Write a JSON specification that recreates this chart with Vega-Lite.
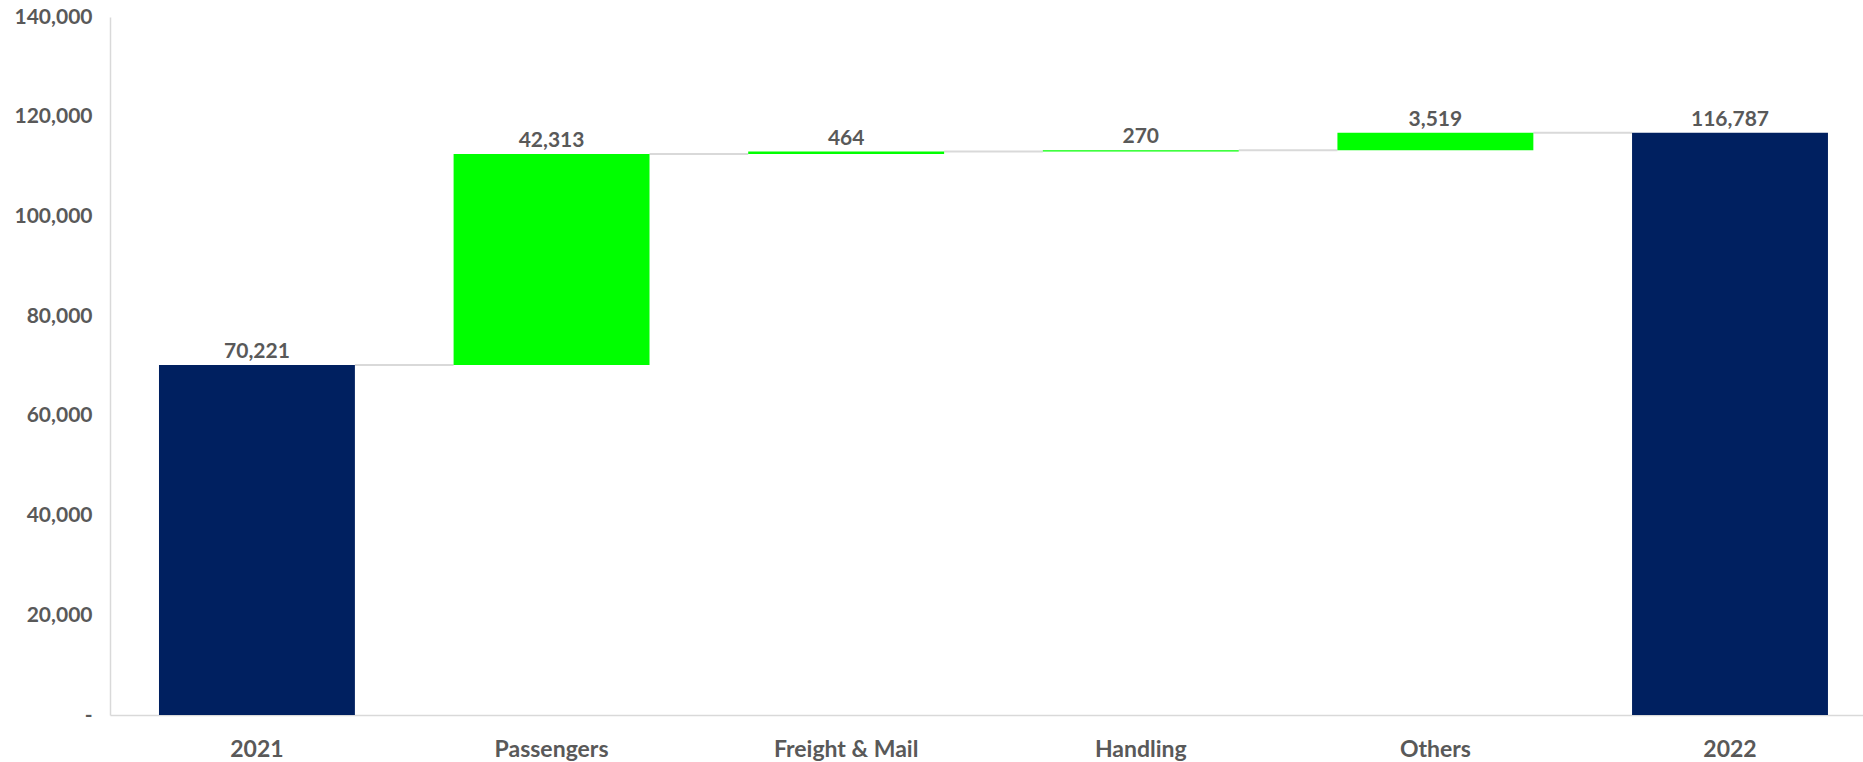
{
  "$schema": "https://vega.github.io/schema/vega-lite/v6.json",
  "autosize": {"type": "none"},
  "width": 1753,
  "height": 698,
  "padding": {"left": 110, "top": 17, "right": 0, "bottom": 47},
  "background": "white",
  "config": {
    "view": {"stroke": null},
    "font": "Lato",
    "axis": {"labelFont": "Lato", "labelFontWeight": "bold", "labelColor": "#595959"}
  },
  "data": {
    "values": [
      {"cat": "2021", "start": 0, "end": 70221, "value": 70221, "kind": "total", "next": "Passengers"},
      {"cat": "Passengers", "start": 70221, "end": 112534, "value": 42313, "kind": "increase", "next": "Freight & Mail"},
      {"cat": "Freight & Mail", "start": 112534, "end": 112998, "value": 464, "kind": "increase", "next": "Handling"},
      {"cat": "Handling", "start": 112998, "end": 113268, "value": 270, "kind": "increase", "next": "Others"},
      {"cat": "Others", "start": 113268, "end": 116787, "value": 3519, "kind": "increase", "next": "2022"},
      {"cat": "2022", "start": 0, "end": 116787, "value": 116787, "kind": "total", "next": null}
    ]
  },
  "encoding": {
    "x": {
      "field": "cat",
      "type": "nominal",
      "sort": null,
      "scale": {"paddingInner": 0.335, "paddingOuter": 0.1426, "align": 0.583},
      "axis": {
        "title": null,
        "labelAngle": 0,
        "labelFontSize": 23,
        "labelPadding": 23,
        "ticks": false,
        "domainColor": "#D9D9D9",
        "domainWidth": 1.5
      }
    }
  },
  "layer": [
    {
      "transform": [{"filter": "datum.next != null"}],
      "mark": {"type": "rule", "color": "#D9D9D9", "strokeWidth": 2},
      "encoding": {
        "x": {"field": "cat", "type": "nominal", "sort": null, "bandPosition": 1},
        "x2": {"field": "next", "bandPosition": 0},
        "y": {"field": "end", "type": "quantitative"}
      }
    },
    {
      "mark": {"type": "bar"},
      "encoding": {
        "y": {
          "field": "start",
          "type": "quantitative",
          "scale": {"domain": [0, 140000], "nice": false},
          "axis": {
            "title": null,
            "values": [0, 20000, 40000, 60000, 80000, 100000, 120000, 140000],
            "labelExpr": "datum.value === 0 ? '-' : format(datum.value, ',')",
            "labelFontSize": 21,
            "labelPadding": 18,
            "ticks": false,
            "grid": false,
            "domainColor": "#D9D9D9",
            "domainWidth": 1.5
          }
        },
        "y2": {"field": "end"},
        "color": {
          "field": "kind",
          "type": "nominal",
          "scale": {"domain": ["total", "increase"], "range": ["#002060", "#00FF00"]},
          "legend": null
        }
      }
    },
    {
      "mark": {"type": "text", "baseline": "alphabetic", "dy": -7, "fontSize": 21, "fontWeight": "bold", "color": "#595959", "font": "Lato"},
      "encoding": {
        "y": {"field": "end", "type": "quantitative"},
        "text": {"field": "value", "type": "quantitative", "format": ","}
      }
    }
  ]
}
